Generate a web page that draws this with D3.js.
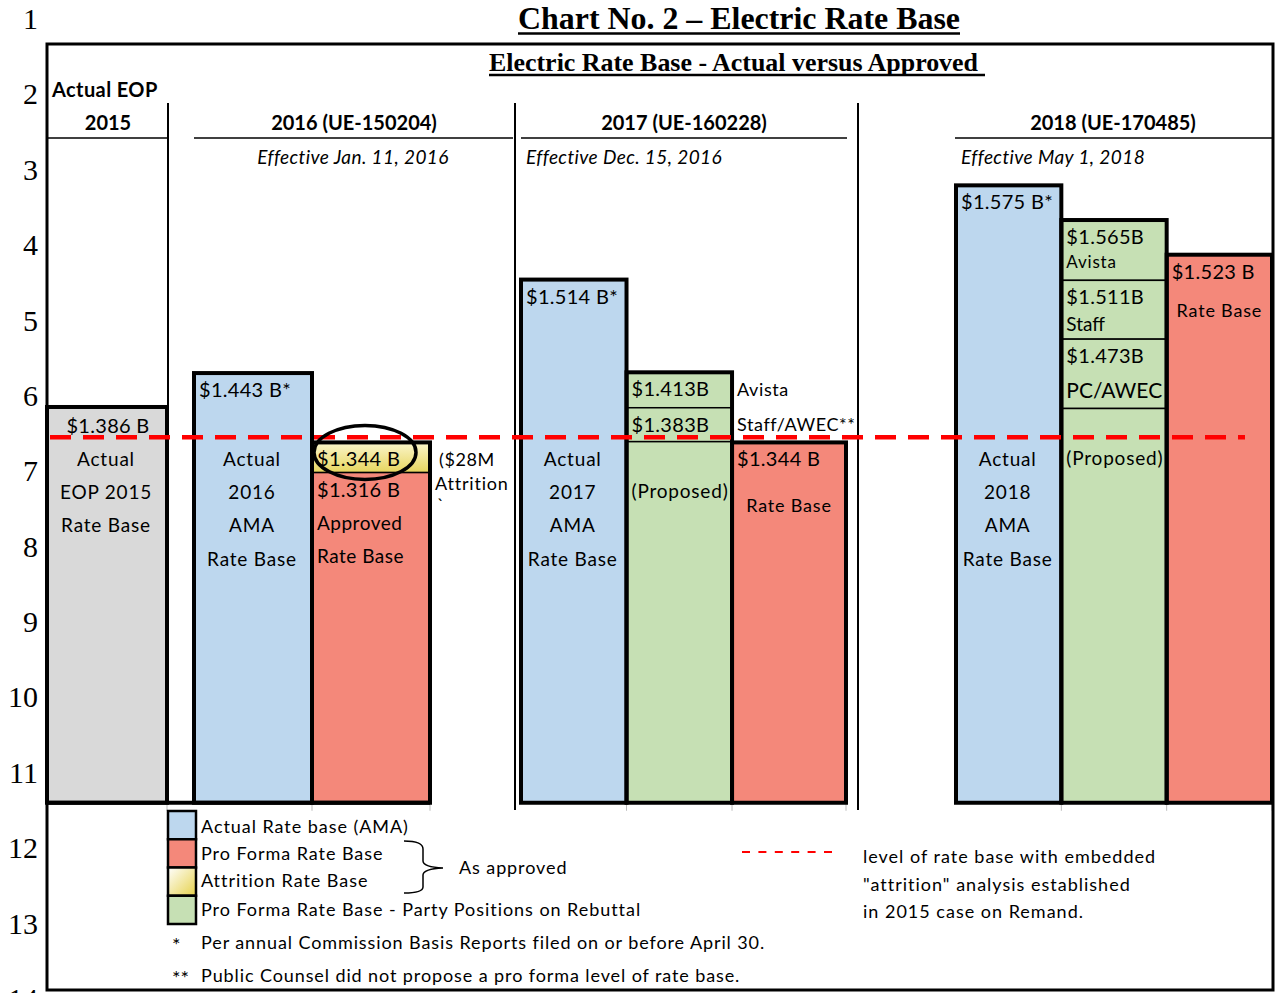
<!DOCTYPE html>
<html>
<head>
<meta charset="utf-8">
<script src="https://cdn.jsdelivr.net/npm/d3@7"></script>
<style>
body { margin: 0; background: #fff; }
text { font-family: Lato, "Open Sans", sans-serif; fill: #000; }
.serif { font-family: "Liberation Serif", "Times New Roman", serif; }
</style>
</head>
<body>
<svg id="chart" width="1275" height="993"></svg>
<script>
var width = 1275
var height = 993

// row numbers down the left edge (the only axis on the sheet)
var rowNumbers = d3.range(1, 15)

var panelNames = ["2015", "2016 (UE-150204)", "2017 (UE-160228)", "2018 (UE-170485)"]
var panelDates = ["", "Effective Jan. 11, 2016", "Effective Dec. 15, 2016", "Effective May 1, 2018"]

// one entry per bar
var barPanel = [0, 1, 1, 2, 2, 2, 3, 3, 3]
var actualBars = [0, 1, 3, 6]
var actualText = [["Actual", "EOP 2015", "Rate Base"],
                  ["Actual", "2016", "AMA", "Rate Base"],
                  ["Actual", "2017", "AMA", "Rate Base"],
                  ["Actual", "2018", "AMA", "Rate Base"]]

// stacked pieces inside the bars, top level read on the row axis
var pieceBar   = [0, 1, 2, 2, 3, 4, 4, 4, 5, 6, 7, 7, 7, 7, 8]
var pieceTop   = [6.16, 5.71, 6.63, 7.03, 4.47, 5.70, 6.17, 6.62, 6.63, 3.22, 3.68, 4.48, 5.26, 6.18, 4.14]
var pieceKind  = ["eop", "actual", "attrition", "proForma", "actual", "party", "party", "party",
                  "proForma", "actual", "party", "party", "party", "party", "proForma"]
var pieceLabel = ["$1.386 B", "$1.443 B*", "$1.344 B", "$1.316 B", "$1.514 B*", "$1.413B", "$1.383B", "",
                  "$1.344 B", "$1.575 B*", "$1.565B", "$1.511B", "$1.473B", "", "$1.523 B"]
var pieceNote  = ["", "", "", "", "", "", "", "(Proposed)", "Rate Base", "", "Avista", "Staff", "PC/AWEC", "(Proposed)", "Rate Base"]
var pieceSide  = ["", "", "($28M", "", "", "Avista", "Staff/AWEC**", "", "", "", "", "", "", "", ""]

var baseRow = 11.41
var attritionRow = 6.56

var legendKinds = ["actual", "proForma", "attrition", "party"]
var legendText = ["Actual Rate base (AMA)", "Pro Forma Rate Base", "Attrition Rate Base",
                  "Pro Forma Rate Base - Party Positions on Rebuttal"]
var footnotes = [["*", "Per annual Commission Basis Reports filed on or before April 30."],
                 ["**", "Public Counsel did not propose a pro forma level of rate base."]]
var dashNote = ["level of rate base with embedded", "\"attrition\" analysis established", "in 2015 case on Remand."]

var colors = {eop: "#d9d9d9", actual: "#bdd7ee", proForma: "#f4887a", party: "#c6e0b4", attrition: "url(#attrGrad)"}

var svg = d3.select("#chart")
var defs = svg.append("defs")
var g1 = defs.append("linearGradient").attr("id", "attrGrad").attr("x1", 0).attr("y1", 0).attr("x2", 0).attr("y2", 1)
g1.append("stop").attr("offset", "0%").attr("stop-color", "#fbf6cc")
g1.append("stop").attr("offset", "100%").attr("stop-color", "#e6d55e")
var g2 = defs.append("linearGradient").attr("id", "attrGradLeg").attr("x1", 0).attr("y1", 0).attr("x2", 1).attr("y2", 1)
g2.append("stop").attr("offset", "0%").attr("stop-color", "#ffffff")
g2.append("stop").attr("offset", "100%").attr("stop-color", "#e6d14a")

var y = d3.scaleLinear().domain([1, 14]).range([18, 998])

// panels (2017 bars are not quite equal in the original, so that panel gets band weights)
var panelRange = [[47, 167], [194, 430], [521, 846], [956, 1272]]
function barsIn(p) { return barPanel.map(function(d, i) { return d == p ? i : -1 }).filter(function(i) { return i >= 0 }) }
var xBand = panelRange.map(function(r, p) {
  return d3.scaleBand().domain(barsIn(p)).range(r).paddingInner(0)
})
var bandWeight = {3: 1, 4: 1, 5: 1.08}
function barX(i) {
  var p = barPanel[i]
  if (p != 2) return xBand[p](i)
  var ids = barsIn(p), tot = d3.sum(ids, function(k) { return bandWeight[k] }), acc = 0
  ids.slice(0, ids.indexOf(i)).forEach(function(k) { acc += bandWeight[k] })
  return panelRange[p][0] + (panelRange[p][1] - panelRange[p][0]) * acc / tot
}
function barW(i) {
  var p = barPanel[i]
  if (p != 2) return xBand[p].bandwidth()
  var ids = barsIn(p), tot = d3.sum(ids, function(k) { return bandWeight[k] })
  return (panelRange[p][1] - panelRange[p][0]) * bandWeight[i] / tot
}

// row number axis
var rowAxis = d3.axisLeft(y).tickValues(rowNumbers).tickSize(0).tickPadding(0).tickFormat(d3.format("d"))
var ax = svg.append("g").attr("transform", "translate(38,0)").call(rowAxis)
ax.select(".domain").remove()
ax.selectAll("text").attr("class", "serif").style("font-size", "30px").attr("dy", "0.35em")
ax.attr("font-family", null).attr("font-size", null)

// titles
svg.append("text").attr("class", "serif").attr("x", 518).attr("y", 29)
  .attr("textLength", 442).attr("lengthAdjust", "spacingAndGlyphs")
  .style("font-size", "32px").style("font-weight", "bold").text("Chart No. 2 – Electric Rate Base")
svg.append("line").attr("x1", 518).attr("x2", 960).attr("y1", 33.5).attr("y2", 33.5).attr("stroke", "#000").attr("stroke-width", 2.5)
svg.append("text").attr("class", "serif").attr("x", 489).attr("y", 71)
  .attr("textLength", 489).attr("lengthAdjust", "spacingAndGlyphs")
  .style("font-size", "26px").style("font-weight", "bold").text("Electric Rate Base - Actual versus Approved")
svg.append("line").attr("x1", 489).attr("x2", 985).attr("y1", 75).attr("y2", 75).attr("stroke", "#000").attr("stroke-width", 2.5)

// panel headers
svg.append("text").attr("x", 52).attr("y", 90).attr("dy", "0.35em")
  .style("font-size", "20px").style("font-weight", "bold").style("letter-spacing", "0.4px").text("Actual EOP")
var headCenter = [108, 354, 684, 1113]
var headLine = [[47, 167], [194, 513], [521, 847], [955, 1273]]
svg.selectAll(".phead").data(panelNames).enter().append("text").attr("class", "phead")
  .attr("x", function(d, i) { return headCenter[i] }).attr("y", 123).attr("dy", "0.35em")
  .attr("text-anchor", "middle").style("font-size", "20px").style("font-weight", "bold")
  .text(function(d) { return d })
svg.selectAll(".hline").data(headLine).enter().append("line").attr("class", "hline")
  .attr("x1", function(d) { return d[0] }).attr("x2", function(d) { return d[1] })
  .attr("y1", 138).attr("y2", 138).attr("stroke", "#000").attr("stroke-width", 1.5)
var dateX = [0, 353, 526, 961]
var dateAnchor = ["start", "middle", "start", "start"]
svg.selectAll(".pdate").data(panelDates).enter().append("text").attr("class", "pdate")
  .attr("x", function(d, i) { return dateX[i] }).attr("y", 157).attr("dy", "0.35em")
  .attr("text-anchor", function(d, i) { return dateAnchor[i] })
  .style("font-size", "19px").style("font-style", "italic").style("letter-spacing", "0.4px")
  .text(function(d) { return d })

// panel dividers
var dividers = [[168, 803], [515, 810], [858, 810]]
svg.selectAll(".divider").data(dividers).enter().append("line").attr("class", "divider")
  .attr("x1", function(d) { return d[0] }).attr("x2", function(d) { return d[0] })
  .attr("y1", 103).attr("y2", function(d) { return d[1] }).attr("stroke", "#000").attr("stroke-width", 2)

// bars: pieces first, then outlines
var barIdx = d3.range(barPanel.length)
function barTopRow(b) { return d3.min(pieceTop.filter(function(t, i) { return pieceBar[i] == b })) }
function pieceBottomRow(i) {
  return (i + 1 < pieceBar.length && pieceBar[i + 1] == pieceBar[i]) ? pieceTop[i + 1] : baseRow
}

// little grey gridline stubs under the bars
svg.selectAll(".stub").data(barIdx).enter().append("line").attr("class", "stub")
  .attr("x1", function(b) { return barX(b) + barW(b) }).attr("x2", function(b) { return barX(b) + barW(b) })
  .attr("y1", y(baseRow)).attr("y2", y(baseRow) + 8).attr("stroke", "#bbb").attr("stroke-width", 1)

var pieceIdx = d3.range(pieceBar.length)
svg.selectAll(".piece").data(pieceIdx).enter().append("rect").attr("class", "piece")
  .attr("x", function(i) { return barX(pieceBar[i]) })
  .attr("width", function(i) { return barW(pieceBar[i]) })
  .attr("y", function(i) { return y(pieceTop[i]) })
  .attr("height", function(i) { return y(pieceBottomRow(i)) - y(pieceTop[i]) })
  .attr("fill", function(i) { return colors[pieceKind[i]] })
  .attr("stroke", "#000").attr("stroke-width", 1.5)

svg.selectAll(".bar").data(barIdx).enter().append("rect").attr("class", "bar")
  .attr("x", barX).attr("width", barW)
  .attr("y", function(b) { return y(barTopRow(b)) })
  .attr("height", function(b) { return y(baseRow) - y(barTopRow(b)) })
  .attr("fill", "none").attr("stroke", "#000").attr("stroke-width", 4)

// floor line under the first two panels
svg.append("line").attr("x1", 47).attr("x2", 430).attr("y1", y(baseRow)).attr("y2", y(baseRow))
  .attr("stroke", "#000").attr("stroke-width", 4)

// piece value labels
svg.selectAll(".plabel").data(pieceIdx.filter(function(i) { return pieceLabel[i] != "" })).enter()
  .append("text").attr("class", "plabel")
  .attr("x", function(i) { return pieceKind[i] == "eop" ? barX(pieceBar[i]) + barW(pieceBar[i]) / 2 + 1 : barX(pieceBar[i]) + 5 })
  .attr("text-anchor", function(i) { return pieceKind[i] == "eop" ? "middle" : "start" })
  .attr("y", function(i) { return y(pieceTop[i]) + (pieceKind[i] == "eop" ? 19 : 17) })
  .attr("dy", "0.35em").style("font-size", "20px").style("letter-spacing", "0.3px")
  .text(function(i) { return pieceLabel[i] })

// side labels next to bars
svg.selectAll(".pside").data(pieceIdx.filter(function(i) { return pieceSide[i] != "" })).enter()
  .append("text").attr("class", "pside")
  .attr("x", function(i) { return barX(pieceBar[i]) + barW(pieceBar[i]) + (pieceKind[i] == "attrition" ? 9 : 5) })
  .attr("y", function(i) { return y(pieceTop[i]) + 17 }).attr("dy", "0.35em")
  .style("font-size", "18px").style("letter-spacing", "0.6px").text(function(i) { return pieceSide[i] })
svg.append("text").attr("x", barX(2) + barW(2) + 5).attr("y", y(pieceTop[2]) + 41).attr("dy", "0.35em")
  .style("font-size", "18px").style("letter-spacing", "0.8px").text("Attrition")
svg.append("text").attr("x", barX(2) + barW(2) + 7).attr("y", y(pieceTop[2]) + 62).attr("dy", "0.35em")
  .style("font-size", "18px").text("`")

// lower notes in pieces
var noteOffset = {"(Proposed)": 50, "Avista": 42, "Staff": 44, "PC/AWEC": 52, "Rate Base": 63}
var noteSize = {"(Proposed)": "19px", "Avista": "17px", "Staff": "19px", "PC/AWEC": "21px", "Rate Base": "18px"}
svg.selectAll(".pnote").data(pieceIdx.filter(function(i) { return pieceNote[i] != "" })).enter()
  .append("text").attr("class", "pnote")
  .attr("x", function(i) { return pieceNote[i] == "Rate Base" ? barX(pieceBar[i]) + barW(pieceBar[i]) / 2 : barX(pieceBar[i]) + 5 })
  .attr("text-anchor", function(i) { return pieceNote[i] == "Rate Base" ? "middle" : "start" })
  .attr("y", function(i) { return y(pieceTop[i]) + noteOffset[pieceNote[i]] + (pieceBar[i] == 8 ? -7 : 0) })
  .attr("dy", "0.35em")
  .style("font-size", function(i) { return noteSize[pieceNote[i]] })
  .style("letter-spacing", function(i) { return pieceNote[i] == "(Proposed)" || pieceNote[i] == "Avista" || pieceNote[i] == "Rate Base" ? "0.8px" : "0px" })
  .text(function(i) { return pieceNote[i] })
svg.selectAll(".approved").data(["Approved", "Rate Base"]).enter().append("text").attr("class", "approved")
  .attr("x", barX(2) + 5).attr("y", function(d, k) { return y(pieceTop[3]) + 51 + k * 33 }).attr("dy", "0.35em")
  .style("font-size", "19px").style("letter-spacing", "0.5px").text(function(d) { return d })

// "Actual ... Rate Base" stacks
actualBars.forEach(function(b, k) {
  svg.selectAll(".act" + k).data(actualText[k]).enter().append("text").attr("class", "act" + k)
    .attr("x", barX(b) + barW(b) / 2 - 1).attr("y", function(d, j) { return 459 + j * 33.3 })
    .attr("dy", "0.35em").attr("text-anchor", "middle")
    .style("font-size", "19px").style("letter-spacing", "0.8px").text(function(d) { return d })
})

// dashed attrition level
svg.append("line").attr("x1", 50).attr("x2", 1245).attr("y1", y(attritionRow)).attr("y2", y(attritionRow))
  .attr("stroke", "#ff0000").attr("stroke-width", 4.5).attr("stroke-dasharray", "21,12")

// ellipse around the approved level
svg.append("ellipse").attr("cx", barX(2) + 53).attr("cy", y(pieceTop[2]) + 10)
  .attr("rx", 51).attr("ry", 27).attr("fill", "none").attr("stroke", "#000").attr("stroke-width", 3.5)

// legend
var sw = d3.scaleBand().domain(legendKinds).range([811, 924])
svg.selectAll(".lsw").data(legendKinds).enter().append("rect").attr("class", "lsw")
  .attr("x", 168).attr("width", 28).attr("y", function(d) { return sw(d) }).attr("height", sw.bandwidth())
  .attr("fill", function(d) { return d == "attrition" ? "url(#attrGradLeg)" : colors[d] })
  .attr("stroke", "#000").attr("stroke-width", 2.5)
var legY = [827, 854, 881, 910]
svg.selectAll(".ltx").data(legendText).enter().append("text").attr("class", "ltx")
  .attr("x", 201).attr("y", function(d, i) { return legY[i] }).attr("dy", "0.35em")
  .style("font-size", "18px").style("letter-spacing", "0.95px").text(function(d) { return d })
svg.append("path").attr("d", "M404,841 Q423,841 423,849 L423,861 Q423,867 443,868 Q423,869 423,875 L423,887 Q423,893 404,893")
  .attr("fill", "none").attr("stroke", "#000").attr("stroke-width", 1.5)
svg.append("text").attr("x", 459).attr("y", 868).attr("dy", "0.35em").style("font-size", "18px")
  .style("letter-spacing", "0.9px").text("As approved")

svg.selectAll(".fn").data(footnotes).enter().append("g").attr("class", "fn").each(function(d, i) {
  var g = d3.select(this)
  g.append("text").attr("x", 172).attr("y", 945 + i * 33).attr("dy", "0.35em").style("font-size", "20px").text(d[0])
  g.append("text").attr("x", 201).attr("y", 943 + i * 33).attr("dy", "0.35em").style("font-size", "18px")
    .style("letter-spacing", "0.9px").text(d[1])
})

svg.append("line").attr("x1", 742).attr("x2", 832).attr("y1", 852).attr("y2", 852)
  .attr("stroke", "#ff0000").attr("stroke-width", 2).attr("stroke-dasharray", "8,8.4")
svg.selectAll(".dn").data(dashNote).enter().append("text").attr("class", "dn")
  .attr("x", 863).attr("y", function(d, i) { return 857 + i * 27.5 }).attr("dy", "0.35em")
  .style("font-size", "18px").style("letter-spacing", "1px").text(function(d) { return d })

// outer frame
svg.append("rect").attr("x", 47).attr("y", 44).attr("width", 1226).attr("height", 946)
  .attr("fill", "none").attr("stroke", "#000").attr("stroke-width", 3)
</script>
</body>
</html>
